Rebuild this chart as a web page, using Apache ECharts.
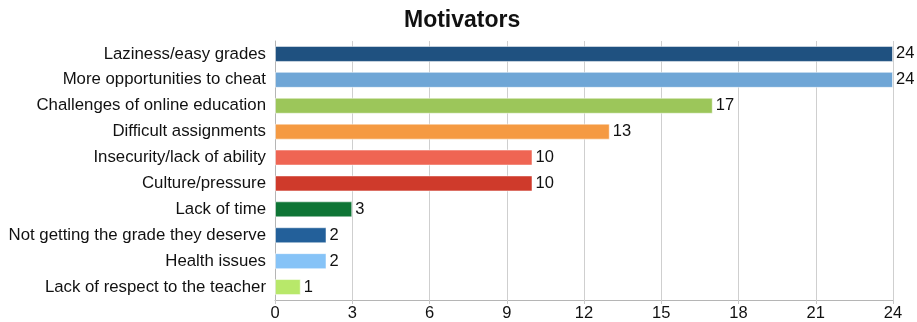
<!DOCTYPE html>
<html>
<head>
<meta charset="utf-8">
<script src="https://cdn.jsdelivr.net/npm/echarts@6/dist/echarts.min.js"></script>
<style>
  html, body { margin: 0; padding: 0; background: #fff; }
  #chart { width: 917px; height: 322px; }
</style>
</head>
<body>
<div id="chart"></div>
<script>
// Motivators, listed top to bottom
const categories = [
  'Laziness/easy grades',
  'More opportunities to cheat',
  'Challenges of online education',
  'Difficult assignments',
  'Insecurity/lack of ability',
  'Culture/pressure',
  'Lack of time',
  'Not getting the grade they deserve',
  'Health issues',
  'Lack of respect to the teacher'
];
const counts = [24, 24, 17, 13, 10, 10, 3, 2, 2, 1];
const barColors = [
  '#1f5180', '#6fa6d6', '#9cc65a', '#f59a42', '#ef6553',
  '#cf3a2b', '#0e7535', '#23609a', '#86c3f7', '#b8e86a'
];
const tickLabels = ['0', '3', '6', '9', '12', '15', '18', '21', '24'];

const font = '"Liberation Sans", Arial, Helvetica, sans-serif';
const chart = echarts.init(document.getElementById('chart'), null, { renderer: 'canvas' });

chart.setOption({
  animation: false,
  backgroundColor: '#ffffff',
  title: {
    text: 'Motivators',
    left: 404,
    top: 9,
    padding: 0,
    textStyle: { fontFamily: font, fontWeight: 'bold', fontSize: 23, color: '#111' }
  },
  grid: { left: 275, right: 24, top: 41, bottom: 20, containLabel: false },
  xAxis: {
    type: 'value',
    min: 0,
    max: 24,
    interval: 3,
    axisLine: { show: true, lineStyle: { color: '#b5b5b5', width: 1 } },
    axisTick: { show: true, length: 4, lineStyle: { color: '#c8c8c8' } },
    splitLine: { show: true, lineStyle: { color: '#cfcfcf', width: 1 } },
    axisLabel: {
      fontFamily: font, fontSize: 16.5, color: '#111', margin: 5,
      formatter: (v) => tickLabels[Math.round(v / 3)]
    }
  },
  yAxis: {
    type: 'category',
    inverse: true,
    data: categories,
    axisLine: { show: true, lineStyle: { color: '#b5b5b5', width: 1 } },
    axisTick: { show: false },
    axisLabel: { fontFamily: font, fontSize: 16.8, color: '#111', margin: 9 }
  },
  series: [{
    type: 'bar',
    barWidth: 16,
    data: counts.map((v, i) => ({
      value: v,
      itemStyle: { color: barColors[i], borderColor: 'rgba(255,255,255,0.5)', borderWidth: 1 }
    })),
    label: {
      show: true,
      position: 'right',
      distance: 3,
      fontFamily: font,
      fontSize: 16.5,
      color: '#111'
    }
  }]
});
</script>
</body>
</html>
